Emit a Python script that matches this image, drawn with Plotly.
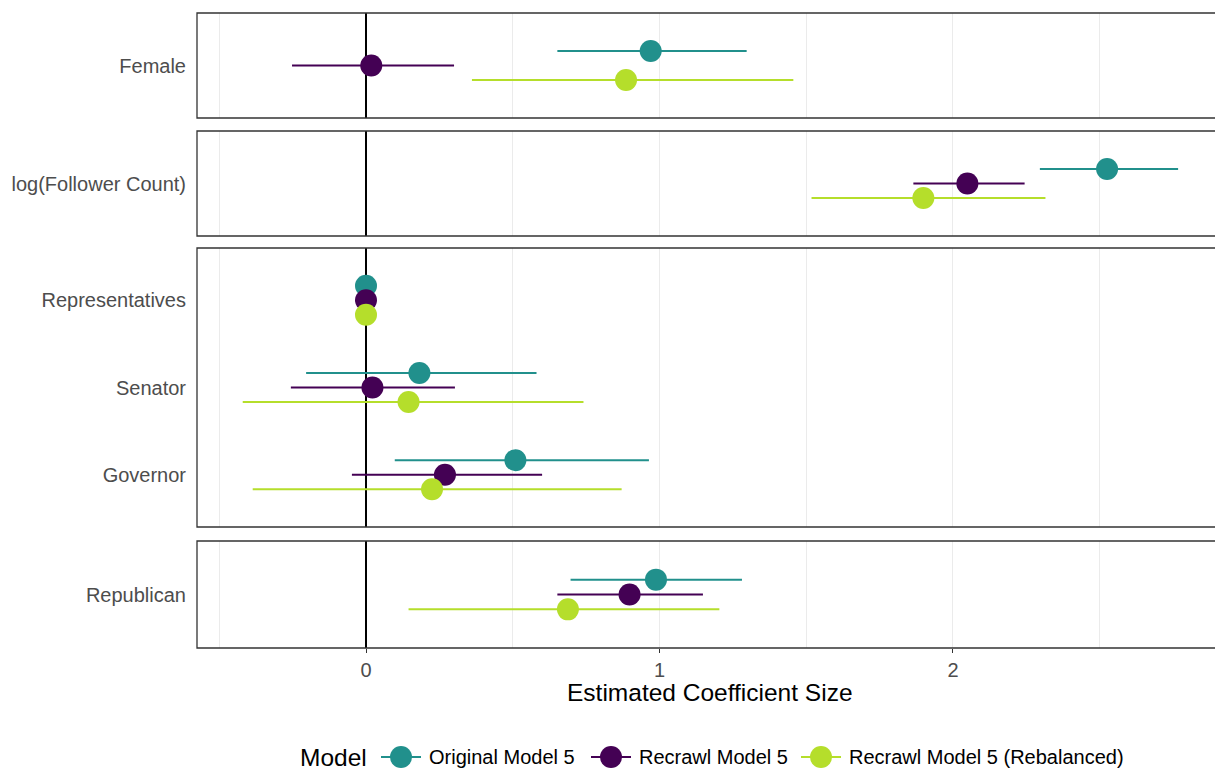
import plotly.graph_objects as go

# Coefficient estimates with 95% intervals for three model fits
terms = ["Female", "log(Follower Count)", "Representatives", "Senator", "Governor", "Republican"]
term_panel = [0, 1, 2, 2, 2, 3]          # facet each term belongs to
term_level = [1, 1, 3, 2, 1, 1]          # position of the term inside its facet

models = ["Original Model 5", "Recrawl Model 5", "Recrawl Model 5 (Rebalanced)"]
model_colors = ["#21908C", "#440154", "#B5DE2B"]

original_est = [0.970, 2.525, 0.0, 0.182, 0.509, 0.988]
original_lo = [0.652, 2.296, 0.0, -0.204, 0.098, 0.697]
original_hi = [1.297, 2.767, 0.0, 0.581, 0.964, 1.281]

recrawl_est = [0.018, 2.049, 0.0, 0.022, 0.269, 0.898]
recrawl_lo = [-0.252, 1.865, 0.0, -0.256, -0.048, 0.652]
recrawl_hi = [0.300, 2.244, 0.0, 0.303, 0.600, 1.148]

rebal_est = [0.886, 1.899, 0.0, 0.145, 0.225, 0.688]
rebal_lo = [0.361, 1.518, 0.0, -0.420, -0.386, 0.145]
rebal_hi = [1.456, 2.315, 0.0, 0.741, 0.871, 1.204]

model_est = [original_est, recrawl_est, rebal_est]
model_lo = [original_lo, recrawl_lo, rebal_lo]
model_hi = [original_hi, recrawl_hi, rebal_hi]
dodge = [1 / 6, 0.0, -1 / 6]

W, H = 1215, 771
FONT = "Liberation Sans, Arial, sans-serif"
TXT = 20
TITLE = 24.5

# facet extents in pixels (top, bottom) and their number of levels
panel_px = [(13, 118), (131, 236), (248, 527), (541, 648)]
panel_levels = [1, 1, 3, 1]
x_left_px = 197
x_range = [-0.5758, 2.8927]

# legend row: title position and key centres (pixels)
legend_y_px = 757
legend_title_x = 298
legend_key_x = [401, 611, 821]


def px_x(p):
    return p / W


def py(p):
    return 1 - p / H


fig = go.Figure()

for m, name in enumerate(models):
    for p in range(4):
        idx = [i for i in range(len(terms)) if term_panel[i] == p]
        xs = [model_est[m][i] for i in idx]
        ys = [term_level[i] + dodge[m] for i in idx]
        plus = [model_hi[m][i] - model_est[m][i] for i in idx]
        minus = [model_est[m][i] - model_lo[m][i] for i in idx]
        sfx = "" if p == 0 else str(p + 1)
        fig.add_trace(go.Scatter(
            x=xs, y=ys, mode="markers", name=name, legendgroup=name,
            showlegend=False,
            marker=dict(size=22, color=model_colors[m]),
            error_x=dict(type="data", symmetric=False, array=plus, arrayminus=minus,
                         width=0, thickness=2, color=model_colors[m]),
            xaxis="x" + sfx, yaxis="y" + sfx,
            hovertemplate="%{x:.3f}<extra>" + name + "</extra>",
        ))

shapes = []
annotations = []

layout = dict(
    width=W, height=H,
    margin=dict(l=0, r=0, t=0, b=0, autoexpand=False),
    paper_bgcolor="white", plot_bgcolor="white",
    font=dict(family=FONT, size=TXT, color="#4D4D4D"),
    showlegend=False,
)

for p in range(4):
    sfx = "" if p == 0 else str(p + 1)
    top, bot = panel_px[p]
    n = panel_levels[p]
    idx = [i for i in range(len(terms)) if term_panel[i] == p]
    bottom = p == 3
    layout["xaxis" + sfx] = dict(
        domain=[x_left_px / W, 1.0], range=x_range, anchor="y" + sfx,
        tickmode="linear", tick0=0, dtick=1,
        showgrid=True, gridcolor="#EBEBEB", gridwidth=1.1,
        minor=dict(tick0=0, dtick=0.5, showgrid=True, gridcolor="#EBEBEB", gridwidth=1, ticks=""),
        zeroline=True, zerolinecolor="black", zerolinewidth=2,
        showline=False,
        showticklabels=bottom,
        ticks="outside" if bottom else "", ticklen=4, tickwidth=1.1, tickcolor="#333333",
        tickfont=dict(size=TXT, color="#4D4D4D"),
        fixedrange=True,
    )
    if p > 0:
        layout["xaxis" + sfx]["matches"] = "x"
    layout["yaxis" + sfx] = dict(
        domain=[py(bot), py(top)], range=[0.4, n + 0.6], anchor="x" + sfx,
        tickmode="array", tickvals=[term_level[i] for i in idx],
        ticktext=[terms[i] for i in idx],
        showgrid=False, zeroline=False, showline=False, ticks="",
        ticklabelstandoff=10,
        tickfont=dict(size=TXT, color="#4D4D4D"),
        fixedrange=True,
    )
    shapes.append(dict(
        type="rect", xref="paper", yref="paper",
        x0=x_left_px / W, x1=1.01, y0=py(bot), y1=py(top),
        line=dict(color="#333333", width=1.3), fillcolor="rgba(0,0,0,0)", layer="above",
    ))

annotations.append(dict(
    text="Estimated Coefficient Size", xref="paper", yref="paper",
    x=710 / W, y=py(692), xanchor="center", yanchor="middle", showarrow=False,
    font=dict(size=TITLE, color="black", family=FONT),
))

# legend drawn as a row: title, then a point-range key and label per model
annotations.append(dict(
    text="Model", xref="paper", yref="paper",
    x=px_x(legend_title_x), y=py(legend_y_px), xanchor="left", yanchor="middle",
    showarrow=False, font=dict(size=TITLE, color="black", family=FONT),
))
for m, name in enumerate(models):
    cx = legend_key_x[m]
    shapes.append(dict(
        type="line", xref="paper", yref="paper",
        x0=px_x(cx - 20), x1=px_x(cx + 20), y0=py(legend_y_px), y1=py(legend_y_px),
        line=dict(color=model_colors[m], width=2),
    ))
    shapes.append(dict(
        type="circle", xref="paper", yref="paper",
        x0=px_x(cx - 11), x1=px_x(cx + 11), y0=py(legend_y_px + 11), y1=py(legend_y_px - 11),
        line=dict(width=0), fillcolor=model_colors[m],
    ))
    annotations.append(dict(
        text=name, xref="paper", yref="paper",
        x=px_x(cx + 26), y=py(legend_y_px), xanchor="left", yanchor="middle",
        showarrow=False, font=dict(size=TXT, color="black", family=FONT),
    ))

layout["shapes"] = shapes
layout["annotations"] = annotations

fig.update_layout(**layout)
fig.write_html("out.html")
